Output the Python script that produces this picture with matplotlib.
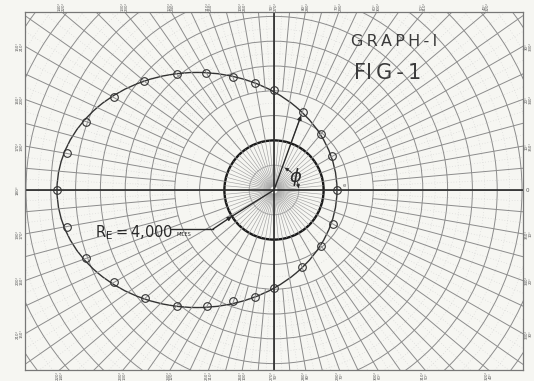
import numpy as np
import matplotlib.pyplot as plt
from matplotlib.patches import Circle, Ellipse
from matplotlib.collections import LineCollection

# orbit points: polar angle (deg) and radius (1000 miles)
angle_deg = [0, 30, 50, 70, 90, 100, 110, 120, 130, 140, 150, 160, 170, 180,
             190, 200, 210, 220, 230, 240, 250, 260, 270, 290, 310, 330]
radius_kmi = [5.08, 5.42, 5.85, 6.73, 8.06, 8.77, 9.67, 10.94, 12.2, 13.66, 14.94, 16.13, 16.96, 17.5,
              16.98, 16.1, 14.9, 13.56, 12.2, 10.83, 9.56, 8.75, 7.9, 6.63, 5.9, 5.46]

perigee = 5.08
apogee = 17.5
semi_minor = 9.48
earth_radius = 4.0   # R_E = 4,000 miles
phi_angle = 70

label_angles = list(range(10, 360, 10))

paper = '#f6f6f2'
grid_c = '#8c8c8c'
ink = '#2a2a2a'
thin = '\u2009'

s = 12.4  # pixels per 1000 miles on the sheet
fig = plt.figure(figsize=(5.34, 3.81), dpi=100, facecolor=paper)
ax = fig.add_axes([25/534, 11/381, 498/534, 358/381])
ax.set_facecolor(paper)
xmax, ymin, ymax = 249/s, -180/s, 178/s
ax.set_xlim(-xmax, xmax)
ax.set_ylim(ymin, ymax)
ax.set_xticks([])
ax.set_yticks([])
for sp in ax.spines.values():
    sp.set_color('#777777')
    sp.set_linewidth(0.9)


def rays(angles, r0, r1):
    a = np.radians(angles)
    return [[(r0*np.cos(t), r0*np.sin(t)), (r1*np.cos(t), r1*np.sin(t))] for t in a]


# polar paper
ax.add_collection(LineCollection(rays(np.arange(0, 360, 5), 0.3, 4), colors='#a0a0a0', linewidths=0.45))
ax.add_collection(LineCollection(rays(np.arange(0, 360, 10), 4, 8), colors=grid_c, linewidths=0.7))
ax.add_collection(LineCollection(rays(np.arange(0, 360, 5), 8, 32), colors=grid_c, linewidths=0.7))
ax.add_collection(LineCollection(rays(np.arange(2.5, 360, 5), 8, 32), colors='#d2d2d2',
                                 linewidths=0.5, linestyles=(0, (1, 3))))
for r in np.arange(2, 32, 2):
    ax.add_patch(Circle((0, 0), r, fill=False, ec=grid_c if r > 2 else '#a8a8a8', lw=0.7))
for r in np.arange(5, 32, 2):
    ax.add_patch(Circle((0, 0), r, fill=False, ec='#d2d2d2', lw=0.5, ls=(0, (1, 3))))

ax.axhline(0, color=ink, lw=1.2)
ax.axvline(0, color=ink, lw=1.2)
ax.add_patch(Circle((0, 0), earth_radius, fill=False, ec='#1a1a1a', lw=1.7))

# angle labels round the frame
for a in label_angles:
    if a == 180:
        continue
    c, sn = np.cos(np.radians(a)), np.sin(np.radians(a))
    tx = xmax/abs(c) if abs(c) > 1e-9 else 1e9
    ty = (ymax if sn > 0 else -ymin)/abs(sn) if abs(sn) > 1e-9 else 1e9
    t = min(tx, ty)
    x, y = t*c, t*sn
    if tx < ty:
        x += 0.45 if c > 0 else -0.45
    else:
        y += 0.45 if sn > 0 else -0.45
    ax.text(x, y, f"{a}°\n{360 - a}°", fontsize=2.8, color='#555555', rotation=90,
            ha='center', va='center', linespacing=0.9, clip_on=False)
ax.text(xmax + 0.35, 0, "0", fontsize=4, color='#555555', ha='center', va='center', clip_on=False)
ax.text(-xmax - 0.6, 0, "180°", fontsize=3, color='#555555', rotation=90, ha='center', va='center',
        clip_on=False)

# orbit
ax.add_patch(Ellipse(((perigee - apogee)/2, 0), perigee + apogee, 2*semi_minor,
                     fill=False, ec='#333333', lw=1.0))
th = np.radians(angle_deg)
r = np.array(radius_kmi)
ax.plot(r*np.cos(th), r*np.sin(th), 'o', ms=5.5, mfc='none', mec='#333333', mew=0.8)

# radius vector and phi
i70 = angle_deg.index(phi_angle)
tip = (r[i70]*np.cos(th[i70]), r[i70]*np.sin(th[i70]))
ax.annotate('', xy=tip, xytext=(0, 0),
            arrowprops=dict(arrowstyle='-|>', color=ink, lw=1.0, mutation_scale=6, shrinkA=0, shrinkB=3))
for a0, a1 in [(45, 64), (18, 4)]:
    p0 = (2*np.cos(np.radians(a0)), 2*np.sin(np.radians(a0)))
    p1 = (2*np.cos(np.radians(a1)), 2*np.sin(np.radians(a1)))
    ax.annotate('', xy=p1, xytext=p0,
                arrowprops=dict(arrowstyle='-|>', color=ink, lw=0.6, mutation_scale=5, shrinkA=0, shrinkB=0))
ax.text(1.72, 1.05, r'$\phi$', fontsize=13, color=ink, ha='center', va='center')
ax.text(5.7, 0.35, 'e', fontsize=4, color='#666666', ha='center', va='center')

# earth radius leader
ang = np.radians(212)
edge = (earth_radius*np.cos(ang), earth_radius*np.sin(ang))
ax.plot([0, edge[0]], [0, edge[1]], color=ink, lw=1.0)
ax.plot([-8.3, -4.92], [-3.15, -3.15], color=ink, lw=1.0)
ax.annotate('', xy=edge, xytext=(-4.92, -3.15),
            arrowprops=dict(arrowstyle='-|>', color=ink, lw=1.0, mutation_scale=6, shrinkA=0, shrinkB=0))
ax.text(-14.45, -3.8, r'$\mathregular{R_E}$' + thin + '=' + thin + '4,000', fontsize=10.5, color=ink,
        ha='left', va='baseline')
ax.text(-7.9, -3.75, 'MILES', fontsize=3.5, color=ink, ha='left', va='baseline')

ax.text(9.7, 11.94, thin.join('GRAPH-I'), fontsize=11.5, color='#3a3a3a', ha='center', va='center')
ax.text(9.15, 9.44, 'FI' + thin + 'G' + thin + '-' + thin + '1', fontsize=15, color='#3a3a3a',
        ha='center', va='center')

fig.savefig('out.png', dpi=100, facecolor=paper)
